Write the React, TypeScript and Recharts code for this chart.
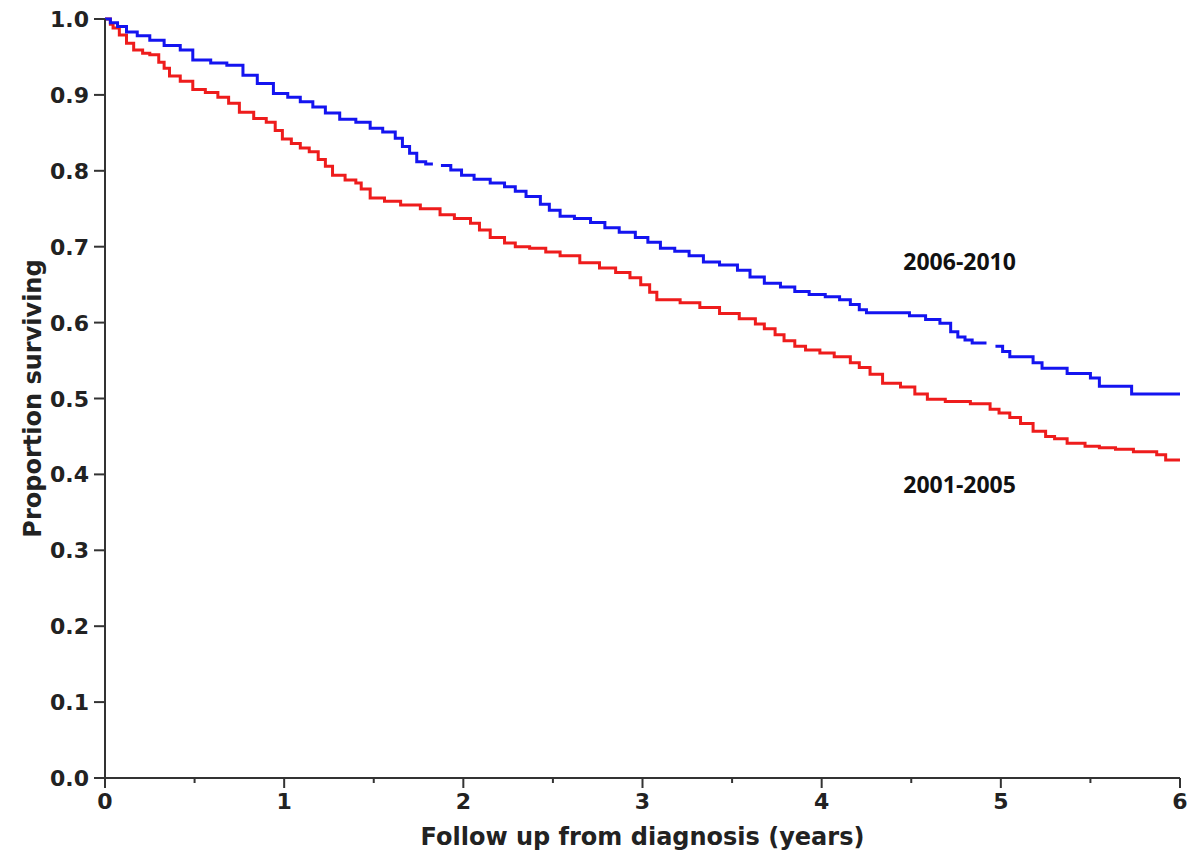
import { LineChart, Line, XAxis, YAxis, ReferenceDot } from "recharts"

// Kaplan-Meier estimates (time in years, proportion surviving)
const laterTimes = [
  0, 0.03, 0.07, 0.12, 0.18, 0.25, 0.33, 0.42, 0.49, 0.59, 0.68, 0.77, 0.85, 0.94, 1.02, 1.09,
  1.16, 1.23, 1.31, 1.4, 1.48, 1.55, 1.62, 1.66, 1.7, 1.74, 1.79, 1.83, 1.835, 1.875, 1.93, 1.99,
  2.06, 2.15, 2.23, 2.29, 2.35, 2.43, 2.48, 2.54, 2.62, 2.71, 2.79, 2.87, 2.96, 3.03, 3.1, 3.18,
  3.26, 3.34, 3.43, 3.53, 3.6, 3.68, 3.77, 3.85, 3.93, 4.02, 4.1, 4.16, 4.21, 4.25, 4.4, 4.49,
  4.58, 4.66, 4.72, 4.76, 4.8, 4.84, 4.92, 4.925, 4.97, 5.01, 5.05, 5.18, 5.23, 5.37, 5.5, 5.55,
  5.73, 6.0,
]
const laterSurv = [
  1.0, 0.995, 0.99, 0.983, 0.978, 0.972, 0.965, 0.959, 0.946, 0.942, 0.939, 0.926, 0.915, 0.902, 0.897, 0.891,
  0.884, 0.876, 0.868, 0.864, 0.856, 0.851, 0.843, 0.832, 0.823, 0.812, 0.809, 0.809, null, 0.807, 0.801, 0.794,
  0.789, 0.784, 0.779, 0.773, 0.766, 0.756, 0.748, 0.74, 0.737, 0.732, 0.725, 0.719, 0.712, 0.706, 0.698, 0.694,
  0.688, 0.68, 0.676, 0.669, 0.66, 0.652, 0.647, 0.641, 0.637, 0.634, 0.63, 0.624, 0.617, 0.613, 0.613, 0.609,
  0.604, 0.599, 0.588, 0.581, 0.577, 0.573, 0.573, null, 0.569, 0.562, 0.555, 0.547, 0.54, 0.533, 0.527, 0.516,
  0.506, 0.506,
]

const earlierTimes = [
  0, 0.03, 0.045, 0.08, 0.12, 0.16, 0.21, 0.25, 0.3, 0.33, 0.36, 0.42, 0.49, 0.56, 0.63, 0.69,
  0.75, 0.83, 0.9, 0.95, 0.99, 1.04, 1.09, 1.14, 1.19, 1.23, 1.27, 1.34, 1.4, 1.43, 1.48, 1.56,
  1.65, 1.76, 1.87, 1.95, 2.04, 2.09, 2.15, 2.23, 2.29, 2.37, 2.46, 2.54, 2.65, 2.76, 2.85, 2.93,
  2.99, 3.04, 3.08, 3.21, 3.32, 3.43, 3.54, 3.63, 3.68, 3.74, 3.79, 3.85, 3.91, 3.99, 4.07, 4.16,
  4.21, 4.27, 4.34, 4.44, 4.52, 4.59, 4.69, 4.83, 4.94, 4.99, 5.05, 5.11, 5.18, 5.25, 5.3, 5.37,
  5.47, 5.55, 5.64, 5.74, 5.87, 5.92, 6.0,
]
const earlierSurv = [
  1.0, 0.993, 0.988, 0.979, 0.968, 0.959, 0.955, 0.953, 0.943, 0.935, 0.925, 0.918, 0.907, 0.903, 0.897, 0.889,
  0.877, 0.869, 0.864, 0.853, 0.842, 0.836, 0.83, 0.825, 0.815, 0.806, 0.794, 0.788, 0.784, 0.776, 0.764, 0.76,
  0.755, 0.75, 0.742, 0.737, 0.731, 0.722, 0.712, 0.705, 0.7, 0.698, 0.693, 0.688, 0.679, 0.672, 0.666, 0.659,
  0.65, 0.64, 0.63, 0.626, 0.62, 0.612, 0.605, 0.598, 0.592, 0.584, 0.576, 0.569, 0.564, 0.56, 0.555, 0.547,
  0.541, 0.532, 0.52, 0.515, 0.506, 0.499, 0.496, 0.493, 0.486, 0.481, 0.475, 0.467, 0.457, 0.45, 0.447, 0.441,
  0.437, 0.435, 0.433, 0.43, 0.426, 0.419, 0.419,
]

const xTicks = [0, 0.5, 1, 1.5, 2, 2.5, 3, 3.5, 4, 4.5, 5, 5.5, 6]
const yTicks = [0, 0.1, 0.2, 0.3, 0.4, 0.5, 0.6, 0.7, 0.8, 0.9, 1.0]

const laterData = laterTimes.map((t, i) => ({ t, s: laterSurv[i] }))
const earlierData = earlierTimes.map((t, i) => ({ t, s: earlierSurv[i] }))

const font = "'DejaVu Sans', sans-serif"
const axisColor = "#333"

function XTick(props: any) {
  const { x, y, payload } = props
  const major = Number.isInteger(payload.value)
  return (
    <g>
      <line x1={x} x2={x} y1={y} y2={y + (major ? 10 : 5)} stroke={axisColor} strokeWidth={2} />
      {major && (
        <text x={x} y={y + 31} textAnchor="middle" fontSize={22} fontWeight="bold" fontFamily={font} fill="#222">
          {payload.value}
        </text>
      )}
    </g>
  )
}

function YTick(props: any) {
  const { x, y, payload } = props
  return (
    <g>
      <line x1={x - 11} x2={x} y1={y} y2={y} stroke={axisColor} strokeWidth={2} />
      <text x={x - 16} y={y + 8} textAnchor="end" fontSize={22} fontWeight="bold" fontFamily={font} fill="#222">
        {payload.value.toFixed(1)}
      </text>
    </g>
  )
}

export default function App() {
  return (
    <div style={{ position: "absolute", left: 0, top: 0, width: 1188, height: 856, overflow: "hidden", background: "#fff" }}>
      <LineChart width={1188} height={856} margin={{ top: 19, right: 8, left: 25, bottom: 8 }}>
        <XAxis
          type="number"
          dataKey="t"
          domain={[0, 6]}
          ticks={xTicks}
          interval={0}
          tickSize={0}
          tickMargin={0}
          tickLine={false}
          tick={<XTick />}
          height={70}
          axisLine={{ stroke: axisColor, strokeWidth: 2 }}
          label={{
            value: "Follow up from diagnosis (years)",
            position: "insideBottom",
            offset: 3,
            fontSize: 24,
            fontWeight: "bold",
            fontFamily: font,
            fill: "#222",
          }}
        />
        <YAxis
          type="number"
          dataKey="s"
          domain={[0, 1]}
          ticks={yTicks}
          interval={0}
          tickSize={0}
          tickMargin={0}
          tickLine={false}
          tick={<YTick />}
          width={80}
          axisLine={{ stroke: axisColor, strokeWidth: 2 }}
          label={{
            value: "Proportion surviving",
            angle: -90,
            position: "insideLeft",
            offset: 7,
            fontSize: 24,
            fontWeight: "bold",
            fontFamily: font,
            fill: "#222",
            style: { textAnchor: "middle" },
          }}
        />
        <Line
          data={earlierData}
          dataKey="s"
          type="stepAfter"
          stroke="#ee1c1c"
          strokeWidth={3}
          dot={false}
          isAnimationActive={false}
        />
        <Line
          data={laterData}
          dataKey="s"
          type="stepAfter"
          stroke="#1414f0"
          strokeWidth={3}
          dot={false}
          isAnimationActive={false}
        />
        <ReferenceDot
          x={4.77}
          y={0.68}
          r={0}
          label={{ value: "2006-2010", position: "center", fontSize: 23, fontWeight: "bold", fontFamily: "'Open Sans', sans-serif", fill: "#111" }}
        />
        <ReferenceDot
          x={4.77}
          y={0.386}
          r={0}
          label={{ value: "2001-2005", position: "center", fontSize: 23, fontWeight: "bold", fontFamily: "'Open Sans', sans-serif", fill: "#111" }}
        />
      </LineChart>
    </div>
  )
}
